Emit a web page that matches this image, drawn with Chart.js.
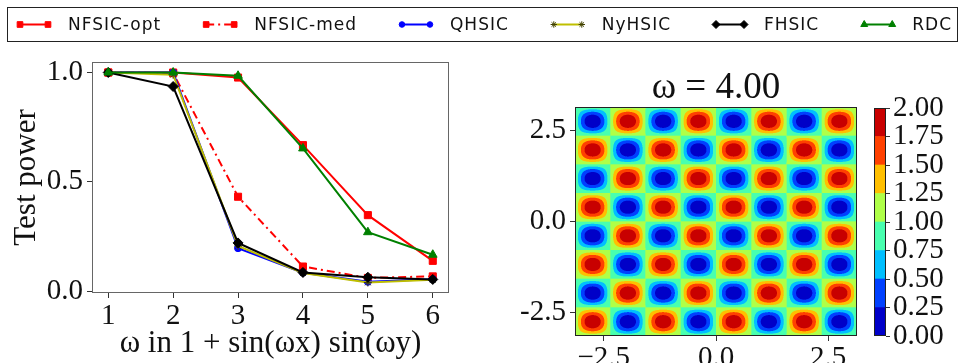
<!DOCTYPE html>
<html>
<head>
<meta charset="utf-8">
<script src="https://cdn.jsdelivr.net/npm/chart.js@4.4.1/dist/chart.umd.min.js"></script>
<style>
  html, body { margin: 0; padding: 0; background: #fff; }
  #wrap { position: relative; width: 964px; height: 363px; overflow: hidden; }
  #wrap canvas { position: absolute; left: 0; top: 0; }
</style>
</head>
<body>
<div id="wrap">
  <canvas id="power" width="964" height="363"></canvas>
  <canvas id="field" width="964" height="363"></canvas>
  <canvas id="cbar" width="964" height="363"></canvas>
</div>
<script>
// test power vs. frequency of the sinusoid
const omegas = [1, 2, 3, 4, 5, 6];
const nfsicOpt = [1.0, 1.0, 0.977, 0.668, 0.348, 0.139];
const nfsicMed = [1.0, 0.997, 0.432, 0.113, 0.061, 0.068];
const qhsic    = [1.0, 1.0, 0.197, 0.085, 0.043, 0.055];
const nyhsic   = [1.0, 0.99, 0.207, 0.083, 0.040, 0.052];
const fhsic    = [1.0, 0.936, 0.221, 0.086, 0.064, 0.054];
const rdc      = [1.0, 1.0, 0.985, 0.653, 0.270, 0.167];
const powerTicks = [0, 0.5, 1.0];

// density panel: 1 + sin(wx) sin(wy) on [-pi, pi]^2
const omega = 4;
const fieldTicks = [-2.5, 0, 2.5];
const levels = [0, 0.25, 0.5, 0.75, 1.0, 1.25, 1.5, 1.75, 2.0];
const levelColors = ["#0000c8", "#0040ff", "#00bfff", "#48ffaf", "#afff48", "#ffbf00", "#ff4000", "#c80000"];

const INK = "#111";
const serif = (size, lineHeight = 1.2) => ({
  family: "'Liberation Serif', 'DejaVu Serif', serif", size, lineHeight, weight: "normal",
});

// ─── Plugins ─────────────────────────────────────────────────────────────────

const frame = {
  id: "frame",
  afterDraw(chart, args, opts) {
    const { ctx, chartArea: a } = chart;
    ctx.save();
    ctx.strokeStyle = opts.color || "#333";
    ctx.lineWidth = 1;
    ctx.strokeRect(Math.round(a.left) + 0.5, Math.round(a.top) + 0.5,
      Math.round(a.right - a.left) - 1, Math.round(a.bottom - a.top) - 1);
    ctx.restore();
  },
};

// legend across the top, columns stretched to fill the frame
const legendBox = {
  id: "legendBox",
  afterDraw(chart) {
    const { ctx } = chart;
    const sets = chart.data.datasets;
    ctx.save();
    ctx.strokeStyle = "#222";
    ctx.lineWidth = 1;
    ctx.strokeRect(7.5, 7.5, 950, 34);

    ctx.font = "17px 'DejaVu Sans'";
    ctx.letterSpacing = "1px";
    const handle = 28, gap = 20, x0 = 20, x1 = 952, y = 24.5;
    const widths = sets.map(d => ctx.measureText(d.label).width);
    const used = widths.reduce((s, w) => s + handle + gap + w, 0);
    const spacing = (x1 - x0 - used) / (sets.length - 1);

    let x = x0;
    sets.forEach((d, i) => {
      ctx.strokeStyle = d.borderColor;
      ctx.lineWidth = d.borderWidth;
      ctx.setLineDash(d.borderDash || []);
      ctx.beginPath();
      ctx.moveTo(x, y);
      ctx.lineTo(x + handle, y);
      ctx.stroke();
      ctx.setLineDash([]);

      ctx.fillStyle = d.pointBackgroundColor;
      ctx.strokeStyle = d.pointBorderColor;
      ctx.lineWidth = 1;
      const mark = { pointStyle: d.pointStyle, rotation: 0, radius: d.pointRadius * 0.8, borderWidth: 1 };
      Chart.helpers.drawPoint(ctx, mark, x, y);
      Chart.helpers.drawPoint(ctx, mark, x + handle, y);

      ctx.fillStyle = INK;
      ctx.textBaseline = "middle";
      ctx.textAlign = "left";
      ctx.fillText(d.label, x + handle + gap, y + 1);
      x += handle + gap + widths[i] + spacing;
    });
    ctx.restore();
  },
};

function hexToRgb(h) {
  const n = parseInt(h.slice(1), 16);
  return [(n >> 16) & 255, (n >> 8) & 255, n & 255];
}

function levelIndex(z) {
  for (let k = levels.length - 2; k >= 0; k--) {
    if (z >= levels[k]) return k;
  }
  return 0;
}

// filled contours, sampled through the chart scales (3x3 per pixel)
const contourFill = {
  id: "contourFill",
  beforeDatasetsDraw(chart) {
    const { ctx, chartArea: a, scales: { x, y } } = chart;
    const left = Math.round(a.left), top = Math.round(a.top);
    const w = Math.round(a.right) - left, h = Math.round(a.bottom) - top;
    const img = ctx.createImageData(w, h);
    const rgb = levelColors.map(hexToRgb);
    const ss = 3;
    for (let j = 0; j < h; j++) {
      for (let i = 0; i < w; i++) {
        let r = 0, g = 0, b = 0;
        for (let sj = 0; sj < ss; sj++) {
          const vy = y.getValueForPixel(top + j + (sj + 0.5) / ss);
          const sy = Math.sin(omega * vy);
          for (let si = 0; si < ss; si++) {
            const vx = x.getValueForPixel(left + i + (si + 0.5) / ss);
            const c = rgb[levelIndex(1 + Math.sin(omega * vx) * sy)];
            r += c[0]; g += c[1]; b += c[2];
          }
        }
        const p = (j * w + i) * 4;
        img.data[p] = r / (ss * ss);
        img.data[p + 1] = g / (ss * ss);
        img.data[p + 2] = b / (ss * ss);
        img.data[p + 3] = 255;
      }
    }
    ctx.putImageData(img, left, top);
  },
};

// ─── Test power ──────────────────────────────────────────────────────────────

function series(label, values, color, pointStyle, extra = {}) {
  return Object.assign({
    label,
    data: values.map((v, i) => ({ x: omegas[i], y: v })),
    borderColor: color,
    backgroundColor: color,
    pointBackgroundColor: color,
    pointBorderColor: color,
    pointStyle,
    pointRadius: 5,
    pointBorderWidth: 1,
    borderWidth: 2,
    tension: 0,
  }, extra);
}

const powerSets = [
  series("NFSIC-opt", nfsicOpt, "#ff0000", "rect"),
  series("NFSIC-med", nfsicMed, "#ff0000", "rect", { borderDash: [8, 4, 2, 4] }),
  series("QHSIC", qhsic, "#0000ff", "circle", { pointRadius: 3.5 }),
  series("NyHSIC", nyhsic, "#bfbf00", "star", { pointBorderColor: "#404000", pointRadius: 4 }),
  series("FHSIC", fhsic, "#000000", "rectRot", { pointRadius: 5 }),
  series("RDC", rdc, "#008000", "triangle", { pointRadius: 5 }),
];
// later series sit on top
powerSets.forEach((d, i) => { d.order = powerSets.length - 1 - i; });

new Chart(document.getElementById("power"), {
  type: "line",
  data: { datasets: powerSets },
  options: {
    responsive: false,
    animation: false,
    layout: { padding: { left: 0, top: 62, right: 515, bottom: 0 } },
    plugins: { legend: { display: false }, tooltip: { enabled: false }, frame: { color: "#666" } },
    scales: {
      x: {
        type: "linear",
        min: 0.75,
        max: 6.25,
        afterBuildTicks: s => { s.ticks = omegas.map(v => ({ value: v })); },
        afterFit: s => { s.height = 70; },
        grid: { drawOnChartArea: false, tickLength: 5, color: "#333" },
        border: { display: false },
        ticks: { font: serif(29), color: INK, padding: 1, maxRotation: 0, autoSkip: false, callback: v => String(v) },
        title: {
          display: true, text: "ω in 1 + sin(ωx) sin(ωy)", color: INK,
          font: serif(31), padding: { top: 0, bottom: 1 },
        },
      },
      y: {
        type: "linear",
        min: -0.008,
        max: 1.048,
        afterBuildTicks: s => { s.ticks = powerTicks.map(v => ({ value: v })); },
        afterFit: s => { s.width = 92; },
        grid: { drawOnChartArea: false, tickLength: 5, color: "#333" },
        border: { display: false },
        ticks: { font: serif(29), color: INK, padding: 4, autoSkip: false, callback: v => v.toFixed(1) },
        title: {
          display: true, text: "Test power", color: INK,
          font: serif(31), padding: { top: 8, bottom: 0 },
        },
      },
    },
  },
  plugins: [frame, legendBox],
});

// ─── Density ─────────────────────────────────────────────────────────────────

new Chart(document.getElementById("field"), {
  type: "scatter",
  data: { datasets: [{ data: [] }] },
  options: {
    responsive: false,
    animation: false,
    layout: { padding: { left: 0, top: 70, right: 107, bottom: 0 } },
    plugins: {
      legend: { display: false },
      tooltip: { enabled: false },
      frame: { color: "#222" },
      title: {
        display: true, fullSize: false, text: "ω = " + omega.toFixed(2), color: INK,
        font: serif(37, 1), padding: 0,
      },
    },
    scales: {
      x: {
        type: "linear",
        min: -Math.PI,
        max: Math.PI,
        afterBuildTicks: s => { s.ticks = fieldTicks.map(v => ({ value: v })); },
        afterFit: s => { s.height = 27; },
        grid: { drawOnChartArea: false, tickLength: 5, color: "#333" },
        border: { display: false },
        ticks: {
          font: serif(29), color: INK, padding: 0, maxRotation: 0, autoSkip: false,
          callback: v => v.toFixed(1).replace("-", "−"),
        },
      },
      y: {
        type: "linear",
        min: -Math.PI,
        max: Math.PI,
        afterBuildTicks: s => { s.ticks = fieldTicks.map(v => ({ value: v })); },
        afterFit: s => { s.width = 575; },
        grid: { drawOnChartArea: false, tickLength: 5, color: "#333" },
        border: { display: false },
        ticks: { font: serif(29), color: INK, padding: 4, autoSkip: false, callback: v => v.toFixed(1) },
      },
    },
  },
  plugins: [contourFill, frame],
});

// ─── Colour bar ──────────────────────────────────────────────────────────────

const bands = levelColors.map((c, i) => ({
  label: levels[i].toFixed(2),
  data: [levels[i + 1] - levels[i]],
  backgroundColor: c,
  borderWidth: 0,
  barPercentage: 1,
  categoryPercentage: 1,
}));

new Chart(document.getElementById("cbar"), {
  type: "bar",
  data: { labels: [""], datasets: bands },
  options: {
    responsive: false,
    animation: false,
    layout: { padding: { left: 874, top: 108, right: 0, bottom: 27 } },
    plugins: { legend: { display: false }, tooltip: { enabled: false }, frame: { color: "#222" } },
    scales: {
      x: { display: false, stacked: true },
      y: {
        stacked: true,
        position: "right",
        min: 0,
        max: 2,
        afterBuildTicks: s => { s.ticks = levels.map(v => ({ value: v })); },
        afterFit: s => { s.width = 78; },
        grid: { drawOnChartArea: false, tickLength: 4, color: "#333" },
        border: { display: false },
        ticks: { font: serif(29), color: INK, padding: 3, autoSkip: false, callback: v => v.toFixed(2) },
      },
    },
  },
  plugins: [frame],
});
</script>
</body>
</html>
